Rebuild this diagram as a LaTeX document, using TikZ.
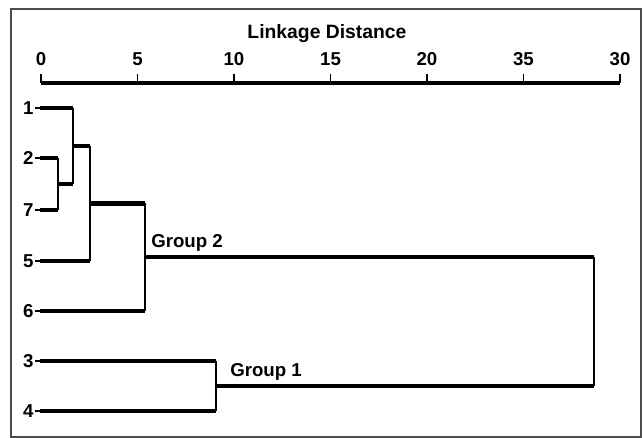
\documentclass[tikz,border=0pt]{standalone}
\usepackage{fontspec}
\setmainfont{Liberation Sans}
\usetikzlibrary{positioning, calc}

\tikzset{
	leaf/.style={anchor=east, inner sep=1pt, font=\fontsize{14}{14}\selectfont\bfseries},
	grouplabel/.style={anchor=west, inner sep=0pt, font=\fontsize{14}{14}\selectfont\bfseries},
	branch/.style={line width=3.2pt},
	stem/.style={line width=0.9pt},
}

\begin{document}
\begin{tikzpicture}[x=0.75pt, y=-0.75pt]
		\useasboundingbox (0,0) rectangle (643,438);
		\draw [line width=1.1pt, black!70] (11,9) rectangle (641,437);
		% axis
		\node (title) at (327,34) {\fontsize{14.5}{14.5}\selectfont\bfseries Linkage Distance};
		\coordinate (ax0) at (41,83);
		\coordinate (ax30) at (620,83);
		\draw [line width=3.6pt] (ax0) -- (ax30);
		\foreach \v/\t in {0/0, 5/5, 10/10, 15/15, 20/20, 25/35, 30/30} {
			\coordinate (tick\v) at ($(ax0)!\v/30!(ax30)$);
			\draw [line width=1pt] (tick\v) -- ++(0,-9);
			\node [anchor=south, inner sep=0pt, font=\fontsize{14}{14}\selectfont\bfseries]
				(num\v) at ($(tick\v)+(0,-17)$) {\t};
		}
		% leaves
		\foreach \n/\y in {1/108, 2/158, 7/210, 5/261, 6/311, 3/361, 4/411} {
			\node [leaf] (lab\n) at (35,\y) {\n};
			\coordinate (c\n) at (40,\y);
			\draw [stem] (lab\n.east) -- (c\n);
		}
		% merges
		\coordinate (c27) at (58,184);
		\coordinate (c127) at (73,146);
		\coordinate (c1275) at (90,203.5);
		\coordinate (grp2) at (145,257);
		\coordinate (grp1) at (216,386);
		\coordinate (root) at (594,321.5);
		\draw [branch] (c2) -- (c2 -| c27);
		\draw [branch] (c7) -- (c7 -| c27);
		\draw [stem] (c27 |- c2) -- (c27 |- c7);
		\draw [branch] (c1) -- (c1 -| c127);
		\draw [branch] (c27) -- (c27 -| c127);
		\draw [stem] (c127 |- c1) -- (c127 |- c27);
		\draw [branch] (c127) -- (c127 -| c1275);
		\draw [branch] (c5) -- (c5 -| c1275);
		\draw [stem] (c1275 |- c127) -- (c1275 |- c5);
		\draw [branch] (c1275) -- (c1275 -| grp2);
		\draw [branch] (c6) -- (c6 -| grp2);
		\draw [stem] (grp2 |- c1275) -- (grp2 |- c6);
		\draw [branch] (c3) -- (c3 -| grp1);
		\draw [branch] (c4) -- (c4 -| grp1);
		\draw [stem] (grp1 |- c3) -- (grp1 |- c4);
		\draw [branch] (grp2) -- (grp2 -| root);
		\draw [branch] (grp1) -- (grp1 -| root);
		\draw [stem] (root |- grp2) -- (root |- grp1);
		\node [grouplabel] (g2) at (151,243) {Group 2};
		\node [grouplabel] (g1) at (230,372) {Group 1};
	\end{tikzpicture}
\end{document}
